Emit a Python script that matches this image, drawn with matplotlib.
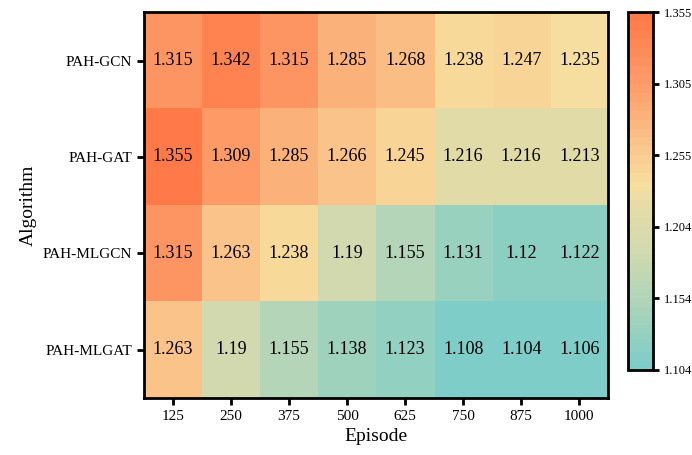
import numpy as np
import matplotlib
matplotlib.use("Agg")
import matplotlib.pyplot as plt
from matplotlib.colors import LinearSegmentedColormap

algorithms = ["PAH-GCN", "PAH-GAT", "PAH-MLGCN", "PAH-MLGAT"]
episodes = ["125", "250", "375", "500", "625", "750", "875", "1000"]
values = np.array([
    [1.315, 1.342, 1.315, 1.285, 1.268, 1.238, 1.247, 1.235],
    [1.355, 1.309, 1.285, 1.266, 1.245, 1.216, 1.216, 1.213],
    [1.315, 1.263, 1.238, 1.19, 1.155, 1.131, 1.12, 1.122],
    [1.263, 1.19, 1.155, 1.138, 1.123, 1.108, 1.104, 1.106],
])

plt.rcParams["font.family"] = ["Liberation Serif", "DejaVu Serif"]

# colour stops
cmap = LinearSegmentedColormap.from_list(
    "tealorange",
    [(0.0, "#7ECDC8"), (0.2, "#B3D5B8"), (0.34, "#D4DAAE"), (0.45, "#E4DCA8"),
     (0.52, "#F7DF9E"), (0.63, "#FAC68C"), (0.8, "#FD9E6A"), (1.0, "#FF7A48")],
    N=40)

vmin, vmax = values.min(), values.max()

fig = plt.figure(figsize=(6.92, 4.55), dpi=100)
ax = fig.add_axes([0.208, 0.125, 0.671, 0.848])
cax = fig.add_axes([0.908, 0.187, 0.036, 0.786])

im = ax.imshow(values, cmap=cmap, vmin=vmin, vmax=vmax, aspect="auto")

for i in range(values.shape[0]):
    for j in range(values.shape[1]):
        ax.text(j, i, f"{values[i, j]:g}", ha="center", va="center",
                fontsize=13, color="black")

ax.set_xticks(range(len(episodes)))
ax.set_xticklabels(episodes, fontsize=11)
ax.set_yticks(range(len(algorithms)))
ax.set_yticklabels(algorithms, fontsize=11)
ax.set_xlabel("Episode", fontsize=14)
ax.set_ylabel("Algorithm", fontsize=14)
ax.tick_params(width=2, length=5)
for s in ax.spines.values():
    s.set_linewidth(2)

cb = fig.colorbar(im, cax=cax)
ticks = np.linspace(vmin, vmax, 6)
cb.set_ticks(ticks)
cb.set_ticklabels([f"{t:.3f}" for t in ticks])
cb.ax.tick_params(labelsize=9, width=2, length=4)
cb.outline.set_linewidth(2)

fig.savefig("out.png", dpi=100)
